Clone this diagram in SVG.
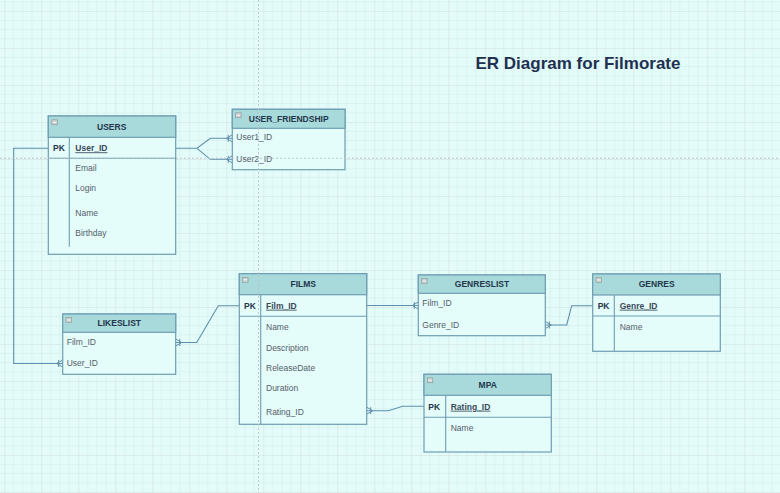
<svg xmlns="http://www.w3.org/2000/svg" width="780" height="493" viewBox="0 0 780 493">
<defs>
<pattern id="grid" x="4.3" y="11" width="37" height="37" patternUnits="userSpaceOnUse">
<path d="M9.25,0 V37 M18.5,0 V37 M27.75,0 V37 M0,9.25 H37 M0,18.5 H37 M0,27.75 H37" stroke="#d2efed" stroke-width="0.7" fill="none"/>
<path d="M0,0 V37 M0,0 H37" stroke="#d2dedd" stroke-width="1.1" fill="none"/>
</pattern>
<marker id="many" markerWidth="10" markerHeight="10" refX="9" refY="5" orient="auto" markerUnits="userSpaceOnUse" viewBox="0 0 10 10" overflow="visible">
<path d="M3,5 L9,1.5 M3,5 L9,8.5 M5,1.5 L5,8.5" stroke="#5f8fae" stroke-width="1" fill="none"/>
</marker>
</defs>
<style>
.box{fill:#e4fcfa;stroke:#6f9db3;stroke-width:1.2}
.hdr{fill:#a8dadb;stroke:#6f9db3;stroke-width:1.2}
.ln{stroke:#6f9db3;stroke-width:1.1;fill:none}
.ttl{font-family:"Liberation Sans",Arial,sans-serif;font-size:8.5px;font-weight:bold;fill:#24364a;text-anchor:middle}
.pk{font-family:"Liberation Sans",Arial,sans-serif;font-size:8.5px;font-weight:bold;fill:#24364a}
.key{font-family:"Liberation Sans",Arial,sans-serif;font-size:8.5px;font-weight:bold;fill:#3a4a5a;text-decoration:underline}
.fld{font-family:"Liberation Sans",Arial,sans-serif;font-size:8.5px;fill:#55606a}
.ico{fill:#c8cccc;stroke:#8a9a9a;stroke-width:0.6}
.icm{stroke:#ffffff;stroke-width:0.9}
.conn{stroke:#5f8fae;stroke-width:1.1;fill:none}
.pb{stroke:#b8c4c4;stroke-width:0.9;stroke-dasharray:2,2;fill:none}
</style>
<rect width="780" height="493" fill="#e3fcf9"/>
<rect width="780" height="493" fill="url(#grid)"/>
<text x="475.5" y="68.5" font-family="'Liberation Sans',Arial,sans-serif" font-size="17" font-weight="bold" fill="#1f3050">ER Diagram for Filmorate</text>

<g id="connectors">
<path class="conn" d="M175.7,148.3 H197 L210.3,138.3 H232.3" marker-end="url(#many)"/>
<path class="conn" d="M197,148.3 L210.3,159.3 H232.3" marker-end="url(#many)"/>
<path class="conn" d="M48.3,148.3 H13.7 V363.5 H62.7" marker-end="url(#many)"/>
<path class="conn" d="M239.3,305.7 H218.3 L196.7,342.5 H175.7" marker-end="url(#many)"/>
<path class="conn" d="M366.7,305.5 H418.3" marker-end="url(#many)"/>
<path class="conn" d="M592.7,305.7 H571.7 L566.7,325 H545.3" marker-end="url(#many)"/>
<path class="conn" d="M424,406.3 H402.7 L388.3,410.7 H366.7" marker-end="url(#many)"/>
</g>

<g id="users">
<rect class="box" x="48.3" y="116" width="127.4" height="138.3"/>
<rect class="hdr" x="48.3" y="116" width="127.4" height="21.3"/>
<rect class="ico" x="51.8" y="119.8" width="5.5" height="5"/>
<line class="icm" x1="52.8" y1="122.3" x2="56.3" y2="122.3"/>
<text class="ttl" x="111.7" y="129.7">USERS</text>
<line class="ln" x1="48.3" y1="158.3" x2="175.7" y2="158.3"/>
<line class="ln" x1="69.3" y1="137.3" x2="69.3" y2="246.7"/>
<text class="pk" x="53" y="151.3">PK</text>
<text class="key" x="75.3" y="151.3">User_ID</text>
<text class="fld" x="75.3" y="170.7">Email</text>
<text class="fld" x="75.3" y="190.7">Login</text>
<text class="fld" x="75.3" y="215.7">Name</text>
<text class="fld" x="75.3" y="236.3">Birthday</text>
</g>

<g id="user_friendship">
<rect class="box" x="232.3" y="109.3" width="112.7" height="60.4"/>
<rect class="hdr" x="232.3" y="109.3" width="112.7" height="19"/>
<rect class="ico" x="235.6" y="112.8" width="5.5" height="5"/>
<line class="icm" x1="236.6" y1="115.3" x2="240.1" y2="115.3"/>
<text class="ttl" x="288.7" y="122">USER_FRIENDSHIP</text>
<text class="fld" x="236.3" y="140.3">User1_ID</text>
<text class="fld" x="236.3" y="162">User2_ID</text>
</g>

<g id="likeslist">
<rect class="box" x="62.7" y="314" width="113" height="60.3"/>
<rect class="hdr" x="62.7" y="314" width="113" height="18.3"/>
<rect class="ico" x="66" y="317.5" width="5.5" height="5"/>
<line class="icm" x1="67" y1="320" x2="70.5" y2="320"/>
<text class="ttl" x="119.3" y="326.3">LIKESLIST</text>
<text class="fld" x="66.7" y="345">Film_ID</text>
<text class="fld" x="66.7" y="366">User_ID</text>
</g>

<g id="films">
<rect class="box" x="239.3" y="273.7" width="127.4" height="150.6"/>
<rect class="hdr" x="239.3" y="273.7" width="127.4" height="21"/>
<rect class="ico" x="242.6" y="277.3" width="5.5" height="5"/>
<line class="icm" x1="243.6" y1="279.8" x2="247.1" y2="279.8"/>
<text class="ttl" x="303.3" y="287.3">FILMS</text>
<line class="ln" x1="239.3" y1="316.3" x2="366.7" y2="316.3"/>
<line class="ln" x1="260.7" y1="294.7" x2="260.7" y2="424.3"/>
<text class="pk" x="244" y="308.7">PK</text>
<text class="key" x="266" y="308.7">Film_ID</text>
<text class="fld" x="266" y="330">Name</text>
<text class="fld" x="266" y="351">Description</text>
<text class="fld" x="266" y="371">ReleaseDate</text>
<text class="fld" x="266" y="391.3">Duration</text>
<text class="fld" x="266" y="414.7">Rating_ID</text>
</g>

<g id="genreslist">
<rect class="box" x="418.3" y="275" width="127" height="60.7"/>
<rect class="hdr" x="418.3" y="275" width="127" height="18.3"/>
<rect class="ico" x="421.6" y="278.5" width="5.5" height="5"/>
<line class="icm" x1="422.6" y1="281" x2="426.1" y2="281"/>
<text class="ttl" x="482" y="287.3">GENRESLIST</text>
<text class="fld" x="422.3" y="306">Film_ID</text>
<text class="fld" x="422.3" y="328">Genre_ID</text>
</g>

<g id="genres">
<rect class="box" x="592.7" y="274" width="127.6" height="77.3"/>
<rect class="hdr" x="592.7" y="274" width="127.6" height="21"/>
<rect class="ico" x="596" y="277.5" width="5.5" height="5"/>
<line class="icm" x1="597" y1="280" x2="600.5" y2="280"/>
<text class="ttl" x="656.7" y="287.3">GENRES</text>
<line class="ln" x1="592.7" y1="316" x2="720.3" y2="316"/>
<line class="ln" x1="614.3" y1="295" x2="614.3" y2="351.3"/>
<text class="pk" x="597.7" y="308.7">PK</text>
<text class="key" x="619.7" y="308.7">Genre_ID</text>
<text class="fld" x="619.7" y="330">Name</text>
</g>

<g id="mpa">
<rect class="box" x="424" y="374.3" width="127.3" height="77.7"/>
<rect class="hdr" x="424" y="374.3" width="127.3" height="21"/>
<rect class="ico" x="427.3" y="377.8" width="5.5" height="5"/>
<line class="icm" x1="428.3" y1="380.3" x2="431.8" y2="380.3"/>
<text class="ttl" x="487.7" y="388">MPA</text>
<line class="ln" x1="424" y1="417.3" x2="551.3" y2="417.3"/>
<line class="ln" x1="445.7" y1="395.3" x2="445.7" y2="452"/>
<text class="pk" x="428.3" y="409.7">PK</text>
<text class="key" x="450.7" y="409.7">Rating_ID</text>
<text class="fld" x="450.7" y="430.7">Name</text>
</g>

<line class="pb" x1="258.5" y1="0" x2="258.5" y2="493"/>
<line class="pb" x1="0" y1="158.3" x2="780" y2="158.3"/>
</svg>
